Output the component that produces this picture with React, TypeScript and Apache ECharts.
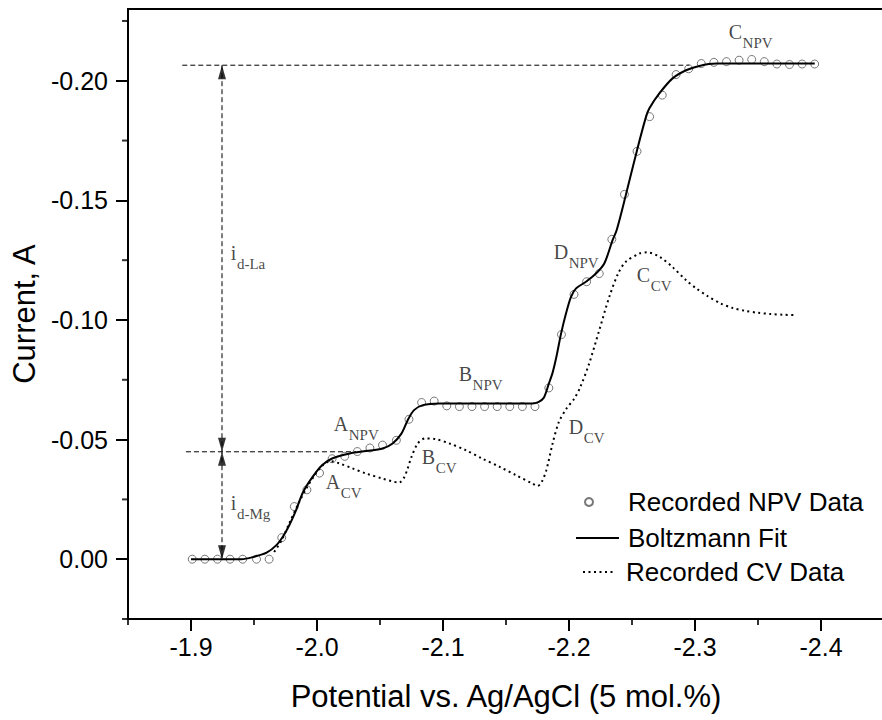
import React, { useEffect, useRef } from "react";
import * as echarts from "echarts";

const FONT_SANS = '"Liberation Sans", Arial, sans-serif';
const FONT_SERIF = '"Liberation Serif", "Times New Roman", serif';

// Recorded NPV data (circles)
const npvPotential = [
  -1.901, -1.911, -1.921, -1.931, -1.941, -1.952, -1.962, -1.972, -1.982, -1.992,
  -2.002, -2.012, -2.022, -2.032, -2.042, -2.052, -2.063, -2.073, -2.083, -2.093,
  -2.103, -2.113, -2.123, -2.133, -2.143, -2.153, -2.163, -2.173, -2.184, -2.194,
  -2.204, -2.214, -2.224, -2.234, -2.244, -2.254, -2.264, -2.274, -2.285, -2.295,
  -2.305, -2.315, -2.325, -2.335, -2.345, -2.355, -2.365, -2.375, -2.385, -2.395,
];
const npvCurrent = [
  0.0, 0.0, 0.0, 0.0, 0.0, 0.0, 0.0, -0.009, -0.022, -0.029,
  -0.036, -0.042, -0.043, -0.045, -0.0465, -0.0477, -0.0497, -0.0585, -0.0655, -0.0661,
  -0.0641, -0.0638, -0.0638, -0.0638, -0.0638, -0.0638, -0.0638, -0.0638, -0.0716, -0.0939,
  -0.1107, -0.116, -0.1194, -0.1337, -0.1525, -0.1705, -0.185, -0.194, -0.2026, -0.205,
  -0.2072, -0.2077, -0.208, -0.2086, -0.2089, -0.208, -0.207, -0.2068, -0.207, -0.207,
];

// Boltzmann fit (solid line)
const fitPotential = [
  -1.9, -1.94, -1.95, -1.96, -1.968, -1.973, -1.978, -1.983, -1.989, -1.9965,
  -2.004, -2.012, -2.026, -2.039, -2.052, -2.06, -2.067, -2.072, -2.077, -2.084,
  -2.097, -2.171, -2.176, -2.18, -2.184, -2.187, -2.19, -2.1937, -2.1976, -2.2016,
  -2.2056, -2.2135, -2.2214, -2.228, -2.2346, -2.2378, -2.245, -2.254, -2.2611, -2.2637,
  -2.2717, -2.2822, -2.2929, -2.3034, -2.3167, -2.395,
];
const fitCurrent = [
  0.0, 0.0, -0.001, -0.0027, -0.006, -0.0095, -0.0142, -0.02, -0.0281, -0.0344,
  -0.0393, -0.0421, -0.0442, -0.0452, -0.0463, -0.0484, -0.0525, -0.0581, -0.0623, -0.0644,
  -0.0651, -0.0651, -0.0658, -0.0675, -0.0734, -0.078, -0.0846, -0.0943, -0.1027, -0.1097,
  -0.1132, -0.116, -0.1194, -0.1236, -0.1334, -0.1375, -0.152, -0.171, -0.1849, -0.1884,
  -0.1947, -0.201, -0.2044, -0.2062, -0.2072, -0.2072,
];

// Recorded CV data (dotted line)
const cvPotential = [
  -1.966, -1.972, -1.978, -1.985, -1.992, -1.998, -2.004, -2.011, -2.018, -2.028,
  -2.039, -2.052, -2.06, -2.065, -2.069, -2.072, -2.075, -2.08, -2.086, -2.094,
  -2.105, -2.118, -2.131, -2.145, -2.158, -2.171, -2.175, -2.178, -2.182, -2.187,
  -2.192, -2.198, -2.204, -2.209, -2.216, -2.224, -2.232, -2.239, -2.245, -2.256,
  -2.262, -2.272, -2.282, -2.293, -2.301, -2.31, -2.32, -2.33, -2.34, -2.35,
  -2.36, -2.37, -2.38,
];
const cvCurrent = [
  -0.003, -0.008, -0.015, -0.023, -0.03, -0.035, -0.039, -0.041, -0.04, -0.038,
  -0.0358, -0.0337, -0.0325, -0.032, -0.034, -0.038, -0.0428, -0.0484, -0.0505, -0.0502,
  -0.0484, -0.0456, -0.0421, -0.0386, -0.0351, -0.0316, -0.0306, -0.032, -0.0372, -0.0484,
  -0.0574, -0.063, -0.067, -0.072, -0.0818, -0.0957, -0.1097, -0.1194, -0.1243, -0.1278,
  -0.1283, -0.1264, -0.1222, -0.1166, -0.1132, -0.11, -0.107, -0.105, -0.1038, -0.103,
  -0.1025, -0.1022, -0.102,
];

// Axis ranges and ticks
const xRange = [-2.45, -1.85];
const yRange = [-0.23, 0.025];
const xTickValues = [-1.9, -2.0, -2.1, -2.2, -2.3, -2.4];
const xMinorTickValues = [-1.85, -1.95, -2.05, -2.15, -2.25, -2.35, -2.45];
const yTickValues = [-0.2, -0.15, -0.1, -0.05, 0];
const yMinorTickValues = [-0.225, -0.175, -0.125, -0.075, -0.025, 0.025];

// Guide lines (limiting current markers)
const guideLaLevel = -0.2065;
const guideMgLevel = -0.0449;
const guideX = -1.9246;
const guideTopSpan = [-1.8931, -2.2955];
const guideMidSpan = [-1.896, -2.031];

// Annotations
const annoMain = ["A", "B", "C", "D", "A", "B", "C", "D", "i", "i"];
const annoSub = ["NPV", "NPV", "NPV", "NPV", "CV", "CV", "CV", "CV", "d-La", "d-Mg"];
const annoPotential = [-2.0137, -2.1129, -2.3272, -2.1883, -2.0074, -2.0836, -2.2542, -2.2002, -1.932, -1.932];
const annoCurrent = [-0.0606, -0.0815, -0.2245, -0.1325, -0.0364, -0.0468, -0.1229, -0.0594, -0.1321, -0.0276];

const zip = (xs: number[], ys: number[]) => xs.map((x, i) => [x, ys[i]]);

// Times-metric advance widths (em) for the annotation letters
const serifAdvance: Record<string, number> = { A: 0.722, B: 0.667, C: 0.667, D: 0.722, i: 0.278 };
const MAIN_SIZE = 20;
const SUB_SIZE = 15;
const SUB_DROP = 14;

export default function App() {
  const ref = useRef<HTMLDivElement>(null);

  useEffect(() => {
    document.body.style.margin = "0";
    if (!ref.current) return;
    const chart = echarts.init(ref.current, undefined, { renderer: "svg" });

    const axisLineStyle = { color: "#000", width: 2 };
    const tickStyle = { color: "#000", width: 2 };
    const dashed = { color: "#000", width: 1, type: [5, 3] as number[] };

    const arrowData = [
      { value: [guideX, guideLaLevel], symbolRotate: 0, symbolOffset: [0, 7] },
      { value: [guideX, guideMgLevel], symbolRotate: 180, symbolOffset: [0, -7] },
      { value: [guideX, guideMgLevel], symbolRotate: 0, symbolOffset: [0, 7] },
      { value: [guideX, 0], symbolRotate: 180, symbolOffset: [0, -7] },
    ];

    const annoMainData = annoMain.map((m, i) => ({
      value: [annoPotential[i], annoCurrent[i]],
      label: { formatter: m },
    }));
    const annoSubData = annoSub.map((s, i) => ({
      value: [annoPotential[i], annoCurrent[i]],
      label: {
        formatter: s,
        offset: [(serifAdvance[annoMain[i]] || 0.7) * MAIN_SIZE + 0.5, SUB_DROP],
      },
    }));

    const annoLabelBase = {
      show: true,
      position: [0, 0],
      align: "left",
      verticalAlign: "top",
      fontFamily: FONT_SERIF,
      color: "#151515",
    };

    const noLegendSymbol = { color: "transparent", borderColor: "transparent", borderWidth: 0 };

    chart.setOption({
      animation: false,
      grid: {
        left: 128,
        top: 9,
        width: 756,
        height: 610,
        show: true,
        backgroundColor: "transparent",
        borderColor: "#000",
        borderWidth: 2,
        outerBoundsMode: "none",
        containLabel: false,
      },
      xAxis: [
        {
          type: "value",
          inverse: true,
          min: xRange[0],
          max: xRange[1],
          position: "bottom",
          axisLine: { show: true, onZero: false, lineStyle: axisLineStyle },
          axisTick: { show: true, customValues: xTickValues, length: 12, lineStyle: tickStyle },
          axisLabel: {
            show: true,
            customValues: xTickValues,
            formatter: (v: number) => v.toFixed(1),
            fontFamily: FONT_SANS,
            fontSize: 25,
            color: "#000",
            margin: 15,
          },
          splitLine: { show: false },
          name: "Potential vs. Ag/AgCl (5 mol.%)",
          nameLocation: "middle",
          nameGap: 62,
          nameTextStyle: { fontFamily: FONT_SANS, fontSize: 31, color: "#000" },
        },
        {
          type: "value",
          inverse: true,
          min: xRange[0],
          max: xRange[1],
          position: "top",
          axisLine: { show: true, onZero: false, lineStyle: axisLineStyle },
          axisTick: { show: false },
          axisLabel: { show: false },
          splitLine: { show: false },
        },
      ],
      yAxis: {
        type: "value",
        inverse: true,
        min: yRange[0],
        max: yRange[1],
        position: "left",
        axisLine: { show: true, onZero: false, lineStyle: axisLineStyle },
        axisTick: { show: true, customValues: yTickValues, length: 12, lineStyle: tickStyle },
        axisLabel: {
          show: true,
          customValues: yTickValues,
          formatter: (v: number) => v.toFixed(2),
          fontFamily: FONT_SANS,
          fontSize: 25,
          color: "#000",
          margin: 20,
        },
        splitLine: { show: false },
        name: "Current, A",
        nameLocation: "middle",
        nameGap: 81,
        nameTextStyle: { fontFamily: FONT_SANS, fontSize: 31, color: "#000" },
      },
      legend: [
        {
          data: ["Recorded NPV Data"],
          orient: "horizontal",
          left: 584,
          top: 489,
          padding: 0,
          itemWidth: 8,
          itemHeight: 8,
          selectedMode: false,
          textStyle: { fontFamily: FONT_SANS, fontSize: 26, color: "#000", padding: [0, 0, 0, 30] },
        },
        {
          data: ["Boltzmann Fit"],
          orient: "horizontal",
          left: 575,
          top: 525,
          padding: 0,
          itemWidth: 43,
          itemHeight: 14,
          selectedMode: false,
          itemStyle: noLegendSymbol,
          lineStyle: { width: 2, color: "#000" },
          textStyle: { fontFamily: FONT_SANS, fontSize: 26, color: "#000", padding: [0, 0, 0, 4] },
        },
        {
          data: ["Recorded CV Data"],
          orient: "horizontal",
          left: 582,
          top: 559,
          padding: 0,
          itemWidth: 31,
          itemHeight: 14,
          selectedMode: false,
          itemStyle: noLegendSymbol,
          lineStyle: { width: 2, color: "#000", type: [2, 3.5] },
          textStyle: { fontFamily: FONT_SANS, fontSize: 26, color: "#000", padding: [0, 0, 0, 7] },
        },
      ],
      series: [
        {
          name: "frame-top",
          type: "line",
          data: [
            [xRange[1], yRange[0]],
            [xRange[0], yRange[0]],
          ],
          symbol: "none",
          clip: false,
          silent: true,
          lineStyle: { color: "#000", width: 2 },
          z: 6,
        },
        {
          name: "x-minor-ticks",
          type: "scatter",
          data: xMinorTickValues.map((v) => [v, yRange[1]]),
          symbol: "rect",
          symbolSize: [2, 6],
          symbolOffset: [0, 3],
          clip: false,
          silent: true,
          itemStyle: { color: "#000" },
          z: 6,
        },
        {
          name: "y-minor-ticks",
          type: "scatter",
          data: yMinorTickValues.map((v) => [xRange[1], v]),
          symbol: "rect",
          symbolSize: [6, 2],
          symbolOffset: [-3, 0],
          clip: false,
          silent: true,
          itemStyle: { color: "#000" },
          z: 6,
        },
        {
          name: "Recorded NPV Data",
          type: "scatter",
          data: zip(npvPotential, npvCurrent),
          symbol: "circle",
          symbolSize: 8,
          itemStyle: { color: "transparent", borderColor: "#555", borderWidth: 1 },
          z: 2,
        },
        {
          name: "Boltzmann Fit",
          type: "line",
          data: zip(fitPotential, fitCurrent),
          showSymbol: false,
          symbol: "none",
          smooth: 0.3,
          lineStyle: { color: "#000", width: 2 },
          itemStyle: { color: "#000" },
          z: 3,
        },
        {
          name: "Recorded CV Data",
          type: "line",
          data: zip(cvPotential, cvCurrent),
          showSymbol: false,
          symbol: "none",
          smooth: 0.3,
          lineStyle: { color: "#000", width: 2, type: [2, 3.5] },
          itemStyle: { color: "#000" },
          z: 3,
        },
        {
          name: "guide-top",
          type: "line",
          data: [
            [guideTopSpan[0], guideLaLevel],
            [guideTopSpan[1], guideLaLevel],
          ],
          symbol: "none",
          lineStyle: dashed,
          z: 1,
        },
        {
          name: "guide-mid",
          type: "line",
          data: [
            [guideMidSpan[0], guideMgLevel],
            [guideMidSpan[1], guideMgLevel],
          ],
          symbol: "none",
          lineStyle: dashed,
          z: 1,
        },
        {
          name: "guide-vertical",
          type: "line",
          data: [
            [guideX, guideLaLevel],
            [guideX, 0],
          ],
          symbol: "none",
          lineStyle: dashed,
          z: 1,
        },
        {
          name: "arrows",
          type: "scatter",
          data: arrowData,
          symbol: "triangle",
          symbolSize: [8, 14],
          itemStyle: { color: "#000" },
          z: 4,
        },
        {
          name: "annotations-main",
          type: "scatter",
          data: annoMainData,
          symbolSize: 1,
          itemStyle: { color: "transparent" },
          label: { ...annoLabelBase, fontSize: MAIN_SIZE, lineHeight: MAIN_SIZE },
          z: 5,
        },
        {
          name: "annotations-sub",
          type: "scatter",
          data: annoSubData,
          symbolSize: 1,
          itemStyle: { color: "transparent" },
          label: { ...annoLabelBase, fontSize: SUB_SIZE, lineHeight: SUB_SIZE },
          z: 5,
        },
      ],
    });

    return () => chart.dispose();
  }, []);

  return <div ref={ref} style={{ width: 882, height: 720 }} />;
}
